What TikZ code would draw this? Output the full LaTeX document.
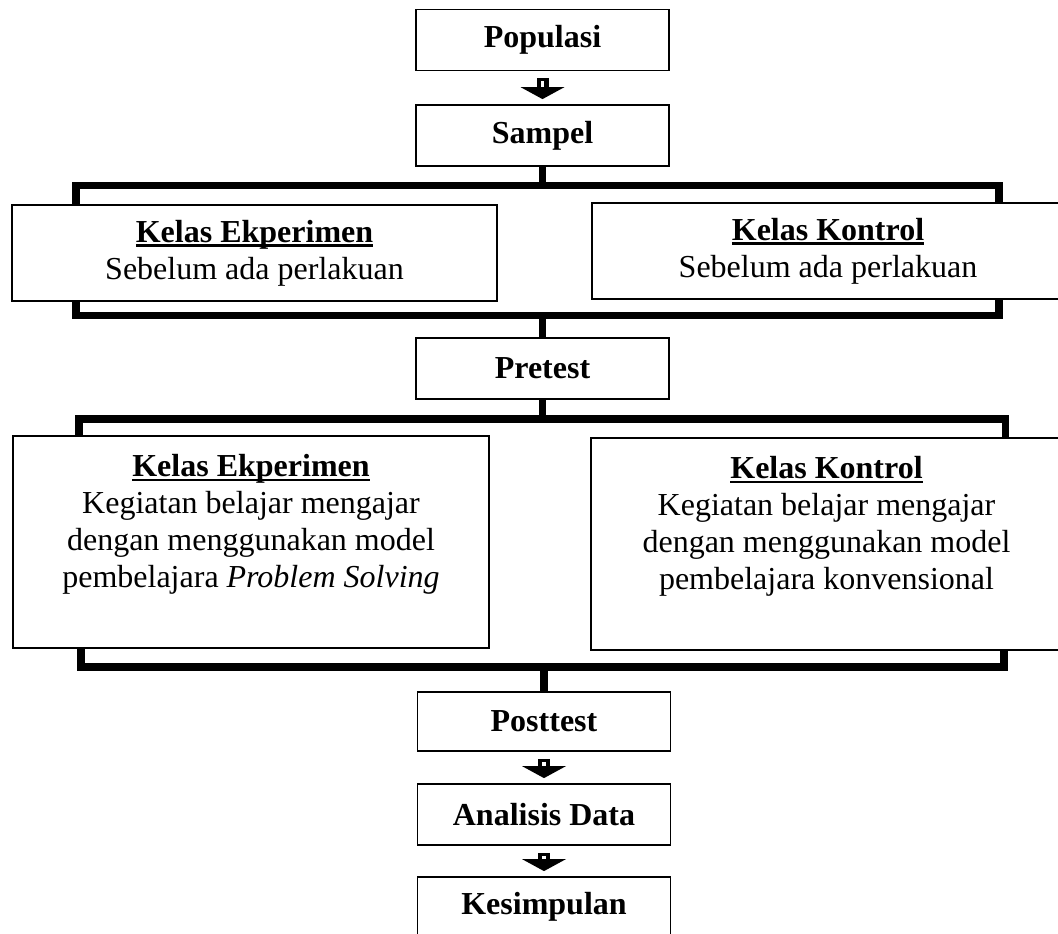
\documentclass[tikz,border=0pt]{standalone}
\usepackage{fontspec}
\setmainfont{Liberation Serif}
\usetikzlibrary{arrows.meta,positioning,calc}

\newcommand{\hdul}[1]{\mbox{\setbox0\hbox{#1}\rlap{\rule[-4.5pt]{\wd0}{2.5pt}}\box0}}

\begin{document}
\begin{tikzpicture}[
x=1pt,y=-1pt,
font=\fontsize{32}{37}\selectfont,
box/.style={
  draw,
  line width=1.8pt,
  minimum width=253pt,
  minimum height=61pt,
  inner sep=0pt,
  font=\fontsize{32}{37}\selectfont\bfseries
},
classbox/.style={draw,line width=1.8pt,minimum height=96pt,inner sep=0pt,align=center},
tallbox/.style={draw,line width=1.8pt,minimum height=212pt,inner sep=0pt},
boxtext/.style={align=center,inner sep=0pt,anchor=north},
bar/.style={line width=7.5pt,line join=miter},
flow/.style={line width=12pt,-{Triangle[width=44pt,length=12pt,line width=0pt]},shorten <=7pt,shorten >=5pt},
flowcore/.style={white,line width=3.5pt,shorten <=10pt,shorten >=17pt}
]
\useasboundingbox (0,0) rectangle (1058,934);

% middle column
\node[box] (pop) at (542.5,40) {Populasi};
\node[box] (samp) at (542.5,135.5) {Sampel};
\node[box] (pre) at (542.5,368.5) {Pretest};
\node[box,minimum height=59pt] (post) at (544,721.5) {Posttest};
\node[box] (anal) at (544,814.5) {Analisis Data};
\node[box,minimum height=60pt] (kes) at (544,907) {Kesimpulan};

% classes before treatment
\node[classbox,minimum width=485pt] (ekA) at (254.5,253)
  {\textbf{\hdul{Kelas Ekperimen}}\\Sebelum ada perlakuan};
\node[classbox,minimum width=472pt] (konA) at (828,251)
  {\textbf{\hdul{Kelas Kontrol}}\\Sebelum ada perlakuan};

% classes with treatment
\node[tallbox,minimum width=476pt] (ekB) at (251,542) {};
\node[boxtext] (ekBtext) at ([yshift=-19pt]ekB.north)
  {\textbf{\hdul{Kelas Ekperimen}}\\Kegiatan belajar mengajar\\dengan menggunakan model\\pembelajara \textit{Problem Solving}};
\node[tallbox,minimum width=471pt] (konB) at (826.5,544) {};
\node[boxtext] (konBtext) at ([yshift=-19pt]konB.north)
  {\textbf{\hdul{Kelas Kontrol}}\\Kegiatan belajar mengajar\\dengan menggunakan model\\pembelajara konvensional};

% bracket corners
\coordinate (topAL) at (76,185.5);
\coordinate (topAR) at (999,185.5);
\coordinate (botAL) at (76,315.5);
\coordinate (botAR) at (999,315.5);
\coordinate (topBL) at (79,419);
\coordinate (topBR) at (1005.5,419);
\coordinate (botBL) at (81,667);
\coordinate (botBR) at (1004,667);

\draw[bar] (topAL |- ekA.north) -- (topAL) -- (topAR) -- (topAR |- konA.north);
\draw[bar] (samp.south) -- (samp.south |- topAL);
\draw[bar] (botAL |- ekA.south) -- (botAL) -- (botAR) -- (botAR |- konA.south);
\draw[bar] (botAL -| pre.north) -- (pre.north);

\draw[bar] (topBL |- ekB.north) -- (topBL) -- (topBR) -- (topBR |- konB.north);
\draw[bar] (pre.south) -- (pre.south |- topBL);
\draw[bar] (botBL |- ekB.south) -- (botBL) -- (botBR) -- (botBR |- konB.south);
\draw[bar] (botBL -| post.north) -- (post.north);

% block arrows
\draw[flow] (pop) -- (samp);
\draw[flowcore] (pop) -- (samp);
\draw[flow] (post) -- (anal);
\draw[flowcore] (post) -- (anal);
\draw[flow] (anal) -- (kes);
\draw[flowcore] (anal) -- (kes);
\end{tikzpicture}
\end{document}
